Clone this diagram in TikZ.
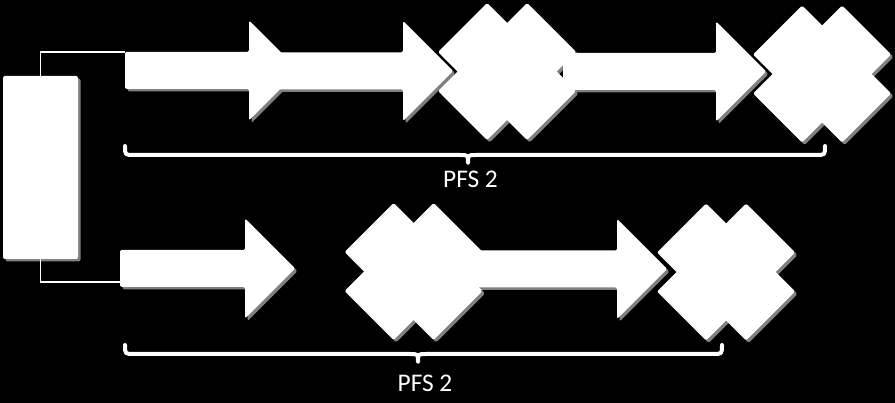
\documentclass[tikz,border=0pt]{standalone}
\usepackage{fontspec}
\setmainfont{Carlito}
\usetikzlibrary{shadows}
\definecolor{shade}{gray}{0.5}
\tikzset{
  trayblock/.style={fill=white, rounded corners=2pt, inner sep=0pt,
    minimum width=75pt, minimum height=183pt,
    drop shadow={shadow xshift=2.5pt, shadow yshift=-2.5pt, fill=shade, opacity=1}},
  wire/.style={draw=white, line width=1.6pt},
  bracket/.style={draw=white, line width=4pt, line cap=round, line join=round},
  pfslabel/.style={text=white, font=\fontsize{25.4}{30}\selectfont, anchor=base, inner sep=0pt}
}
\newcommand\flowarrow[3]{%
  \fill[shift={(0,#3)}] (#1,-18.5) -- (#2,-18.5) -- (#2,-50) -- ++(50,50)
    -- (#2,50) -- (#2,18.5) -- (#1,18.5) -- cycle;}
\newcommand\crossmark[2]{%
  \fill[shift={(#1,#2)}] \foreach \dx/\dy in {-20/-19.5,20/-19.5,-20/19.5,20/19.5}
    {(\dx,\dy) ++(0,-49) -- ++(49,49) -- ++(-49,49) -- ++(-49,-49) -- cycle};}
\newcommand\pfsbrace[4]{%
  \draw[bracket, shift={(0,#4)}] (#1,-9) .. controls (#1,0) .. (#1+9,0) -- (#2-8,0)
    .. controls (#2,0) .. (#2,8) .. controls (#2,0) .. (#2+8,0) -- (#3-9,0)
    .. controls (#3,0) .. (#3,-9);}
\begin{document}
\begin{tikzpicture}[x=1pt,y=-1pt]
  \fill[black] (0,0) rectangle (895,403);
  \useasboundingbox (0,0) rectangle (895,403);
  \node[trayblock] (tray) at (40.5,167.5) {};
  \coordinate (inTop) at (125,52);
  \coordinate (inBot) at (120,282);
  \draw[wire] (tray.north) |- (inTop);
  \draw[wire] (tray.south) |- (inBot);
  \begin{scope}[fill=shade, rounded corners=1.5pt, shift={(2.5,2.5)}]
    \flowarrow{125}{249}{70.5}
    \flowarrow{265}{403}{71}
    \flowarrow{563}{716}{71.5}
    \flowarrow{120}{245}{268.5}
    \flowarrow{463}{617}{269}
    \crossmark{507}{71.5}
    \crossmark{822}{74}
    \crossmark{413.5}{271.5}
    \crossmark{726}{272}
  \end{scope}
  \begin{scope}[fill=white, rounded corners=1.5pt]
    \flowarrow{125}{249}{70.5}
    \flowarrow{265}{403}{71}
    \flowarrow{563}{716}{71.5}
    \flowarrow{120}{245}{268.5}
    \flowarrow{463}{617}{269}
    \crossmark{507}{71.5}
    \crossmark{822}{74}
    \crossmark{413.5}{271.5}
    \crossmark{726}{272}
  \end{scope}
  \pfsbrace{125}{468}{825}{155}
  \pfsbrace{125}{418}{722}{354}
  \node[pfslabel] (pfsTop) at (470.5,188) {PFS 2};
  \node[pfslabel] (pfsBot) at (425,392) {PFS 2};
\end{tikzpicture}
\end{document}
